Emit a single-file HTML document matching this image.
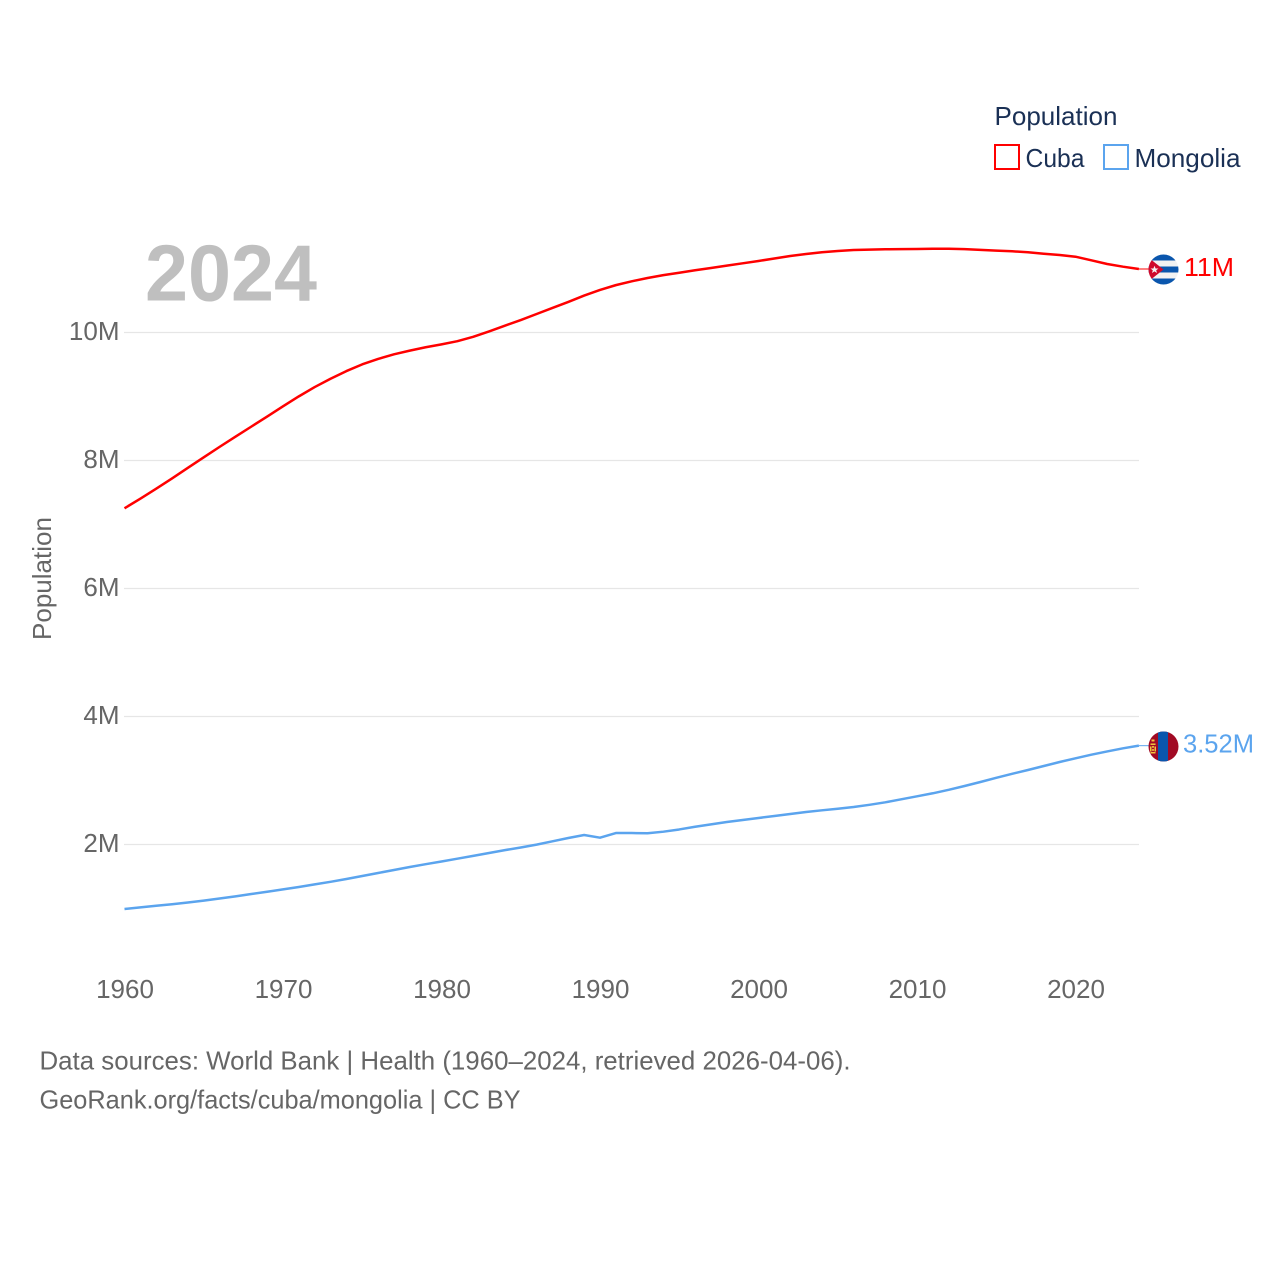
<!DOCTYPE html>
<html lang="en">
<head>
<meta charset="utf-8">
<title>Population of Cuba and Mongolia, 1960–2024</title>
<style>
html,body{margin:0;padding:0;background:#fff;}
svg{display:block;}
text{font-family:"Liberation Sans",sans-serif;}
</style>
</head>
<body>
<svg id="chart" xmlns="http://www.w3.org/2000/svg" width="1280" height="1280" viewBox="0 0 1280 1280">
  <defs>
    <clipPath id="flag-clip"><circle cx="0" cy="0" r="15"></circle></clipPath>
  </defs>
  <rect x="0" y="0" width="1280" height="1280" fill="#ffffff"></rect>

  <g id="grid"></g>
  <g id="y-ticks"></g>
  <g id="x-ticks"></g>

  <text x="145" y="300.5" font-size="80" font-weight="700" fill="#bfbfbf" textLength="172" lengthAdjust="spacingAndGlyphs">2024</text>

  <text transform="translate(51,640) rotate(-90)" font-size="26" fill="#666666" textLength="123" lengthAdjust="spacingAndGlyphs">Population</text>

  <g id="series"></g>

  <g id="flag-cuba">
    <g clip-path="url(#flag-clip)">
      <rect x="-15" y="-15" width="30" height="30" fill="#f2f2f2"></rect>
      <rect x="-15" y="-15" width="30" height="6" fill="#0a56ad"></rect>
      <rect x="-15" y="-3" width="30" height="6" fill="#0a56ad"></rect>
      <rect x="-15" y="9" width="30" height="6" fill="#0a56ad"></rect>
      <polygon points="-19,-15 0,0 -19,15" fill="#cf0a2c"></polygon>
      <polygon points="-9,-3.8 -7.9,-1 -5,-1 -7.3,0.8 -6.5,3.5 -9,1.9 -11.5,3.5 -10.7,0.8 -13,-1 -10.1,-1" fill="#f5f5f5"></polygon>
    </g>
  </g>

  <g id="flag-mongolia">
    <g clip-path="url(#flag-clip)">
      <rect x="-15" y="-15" width="30" height="30" fill="#a10a24"></rect>
      <rect x="-5.5" y="-15" width="10" height="30" fill="#0a56ad"></rect>
      <rect x="-12" y="-7" width="3" height="2" fill="#f2c73d"></rect>
      <rect x="-13" y="-3" width="5" height="1.5" fill="#f2c73d"></rect>
      <rect x="-13.5" y="0" width="1.5" height="5" fill="#f2c73d"></rect>
      <rect x="-9" y="0" width="1.5" height="5" fill="#f2c73d"></rect>
      <rect x="-11.4" y="-0.5" width="1.8" height="1.8" fill="#f2c73d"></rect>
      <rect x="-11.4" y="2.6" width="1.8" height="1.8" fill="#f2c73d"></rect>
      <rect x="-13" y="5.5" width="5" height="1.5" fill="#f2c73d"></rect>
    </g>
  </g>

  <text id="label-cuba" x="1184" font-size="26" fill="#ff0000" textLength="50" lengthAdjust="spacingAndGlyphs"></text>
  <text id="label-mongolia" x="1183" font-size="26" fill="#5ba4ee" textLength="71" lengthAdjust="spacingAndGlyphs"></text>

  <g>
    <text x="994.5" y="125" font-size="26" fill="#1a3055" textLength="123" lengthAdjust="spacingAndGlyphs">Population</text>
    <g>
      <rect x="995" y="145" width="24" height="24" fill="#ffffff" stroke="#ff0000" stroke-width="2"></rect>
      <text x="1025.5" y="167" font-size="26" fill="#1a3055" textLength="59" lengthAdjust="spacingAndGlyphs">Cuba</text>
    </g>
    <g>
      <rect x="1104" y="145" width="24" height="24" fill="#ffffff" stroke="#5ba4ee" stroke-width="2"></rect>
      <text x="1134.5" y="167" font-size="26" fill="#1a3055" textLength="106" lengthAdjust="spacingAndGlyphs">Mongolia</text>
    </g>
  </g>

  <g>
    <text x="39.5" y="1069.5" font-size="26" fill="#666666" textLength="811" lengthAdjust="spacingAndGlyphs">Data sources: World Bank | Health (1960–2024, retrieved 2026-04-06).</text>
    <text x="39.5" y="1108.5" font-size="26" fill="#666666" textLength="481" lengthAdjust="spacingAndGlyphs">GeoRank.org/facts/cuba/mongolia | CC BY</text>
  </g>
</svg>

<script>
const years = [1960,1961,1962,1963,1964,1965,1966,1967,1968,1969,1970,1971,1972,1973,1974,1975,1976,1977,1978,1979,1980,1981,1982,1983,1984,1985,1986,1987,1988,1989,1990,1991,1992,1993,1994,1995,1996,1997,1998,1999,2000,2001,2002,2003,2004,2005,2006,2007,2008,2009,2010,2011,2012,2013,2014,2015,2016,2017,2018,2019,2020,2021,2022,2023,2024];
const cubaMillions = [7.261,7.412,7.568,7.728,7.893,8.058,8.221,8.380,8.537,8.695,8.855,9.010,9.155,9.285,9.405,9.510,9.595,9.667,9.725,9.777,9.822,9.872,9.940,10.025,10.115,10.203,10.297,10.391,10.486,10.585,10.672,10.748,10.808,10.859,10.904,10.942,10.980,11.016,11.052,11.089,11.125,11.164,11.203,11.234,11.261,11.281,11.297,11.303,11.308,11.310,11.313,11.317,11.317,11.311,11.299,11.288,11.277,11.261,11.239,11.219,11.192,11.136,11.078,11.036,11.000];
const mongoliaMillions = [1.000,1.026,1.050,1.075,1.102,1.131,1.164,1.198,1.234,1.269,1.306,1.344,1.384,1.425,1.469,1.516,1.563,1.609,1.656,1.700,1.742,1.786,1.830,1.875,1.920,1.961,2.006,2.058,2.109,2.156,2.114,2.187,2.187,2.183,2.208,2.243,2.285,2.323,2.359,2.391,2.422,2.453,2.484,2.516,2.542,2.567,2.594,2.628,2.667,2.714,2.761,2.808,2.862,2.922,2.984,3.050,3.112,3.172,3.234,3.297,3.355,3.411,3.462,3.511,3.552];
const yTickValues = [2,4,6,8,10];
const yTickLabels = ["2M","4M","6M","8M","10M"];
const xTickValues = [1960,1970,1980,1990,2000,2010,2020];
const xTickLabels = ["1960","1970","1980","1990","2000","2010","2020"];
const cubaEndLabel = "11M";
const mongoliaEndLabel = "3.52M";

const SVG_NS = "http://www.w3.org/2000/svg";
function xScale(year){ return 124.5 + (year - 1960) * 15.85; }
function yScale(m){ return 973 - 64 * m; }
function pointsFor(values){
  return values.map(function(v, i){ return xScale(years[i]).toFixed(2) + "," + yScale(v).toFixed(2); }).join(" ");
}

const gridGroup = document.getElementById("grid");
const yGroup = document.getElementById("y-ticks");
yTickValues.forEach(function(v, i){
  const line = document.createElementNS(SVG_NS, "line");
  
  
  line.setAttribute("x1", 124);
  line.setAttribute("x2", 1139);
  line.setAttribute("y1", yScale(v) - 0.5);
  line.setAttribute("y2", yScale(v) - 0.5);
  line.setAttribute("stroke", "#e6e6e6");
  line.setAttribute("stroke-width", 1.3);
  gridGroup.appendChild(line);

  const label = document.createElementNS(SVG_NS, "text");
  
  
  label.setAttribute("x", 119.5);
  label.setAttribute("y", yScale(v) + 7);
  label.setAttribute("text-anchor", "end");
  label.setAttribute("font-size", 26);
  label.setAttribute("fill", "#666666");
  label.textContent = yTickLabels[i];
  yGroup.appendChild(label);
});

const xGroup = document.getElementById("x-ticks");
xTickValues.forEach(function(year, i){
  const label = document.createElementNS(SVG_NS, "text");
  
  
  label.setAttribute("x", xScale(year) + 0.5);
  label.setAttribute("y", 998);
  label.setAttribute("text-anchor", "middle");
  label.setAttribute("font-size", 26);
  label.setAttribute("fill", "#666666");
  label.textContent = xTickLabels[i];
  xGroup.appendChild(label);
});

const seriesGroup = document.getElementById("series");
const lastYear = years[years.length - 1];

const cubaLine = document.createElementNS(SVG_NS, "polyline");


cubaLine.setAttribute("points", pointsFor(cubaMillions));
cubaLine.setAttribute("fill", "none");
cubaLine.setAttribute("stroke", "#ff0000");
cubaLine.setAttribute("stroke-width", 2.5);
cubaLine.setAttribute("stroke-linejoin", "round");
seriesGroup.appendChild(cubaLine);

const mongoliaLine = document.createElementNS(SVG_NS, "polyline");


mongoliaLine.setAttribute("points", pointsFor(mongoliaMillions));
mongoliaLine.setAttribute("fill", "none");
mongoliaLine.setAttribute("stroke", "#5ba4ee");
mongoliaLine.setAttribute("stroke-width", 2.5);
mongoliaLine.setAttribute("stroke-linejoin", "round");
seriesGroup.appendChild(mongoliaLine);

const cubaEndY = yScale(cubaMillions[cubaMillions.length - 1]);
const mongoliaEndY = yScale(mongoliaMillions[mongoliaMillions.length - 1]);

const cubaLeader = document.createElementNS(SVG_NS, "line");


cubaLeader.setAttribute("x1", xScale(lastYear));
cubaLeader.setAttribute("x2", 1149);
cubaLeader.setAttribute("y1", cubaEndY);
cubaLeader.setAttribute("y2", cubaEndY);
cubaLeader.setAttribute("stroke", "#ff0000");
cubaLeader.setAttribute("stroke-width", 1);
seriesGroup.appendChild(cubaLeader);

const mongoliaLeader = document.createElementNS(SVG_NS, "line");


mongoliaLeader.setAttribute("x1", xScale(lastYear));
mongoliaLeader.setAttribute("x2", 1149);
mongoliaLeader.setAttribute("y1", mongoliaEndY);
mongoliaLeader.setAttribute("y2", mongoliaEndY);
mongoliaLeader.setAttribute("stroke", "#5ba4ee");
mongoliaLeader.setAttribute("stroke-width", 1);
seriesGroup.appendChild(mongoliaLeader);

document.getElementById("flag-cuba").setAttribute("transform", "translate(1163.5," + (cubaEndY + 0.5) + ")");
document.getElementById("flag-mongolia").setAttribute("transform", "translate(1163.5," + (mongoliaEndY + 0.8) + ")");

const cubaLabel = document.getElementById("label-cuba");
cubaLabel.setAttribute("y", cubaEndY + 7);
cubaLabel.textContent = cubaEndLabel;
const mongoliaLabel = document.getElementById("label-mongolia");
mongoliaLabel.setAttribute("y", mongoliaEndY + 7);
mongoliaLabel.textContent = mongoliaEndLabel;
</script>
</body>
</html>
